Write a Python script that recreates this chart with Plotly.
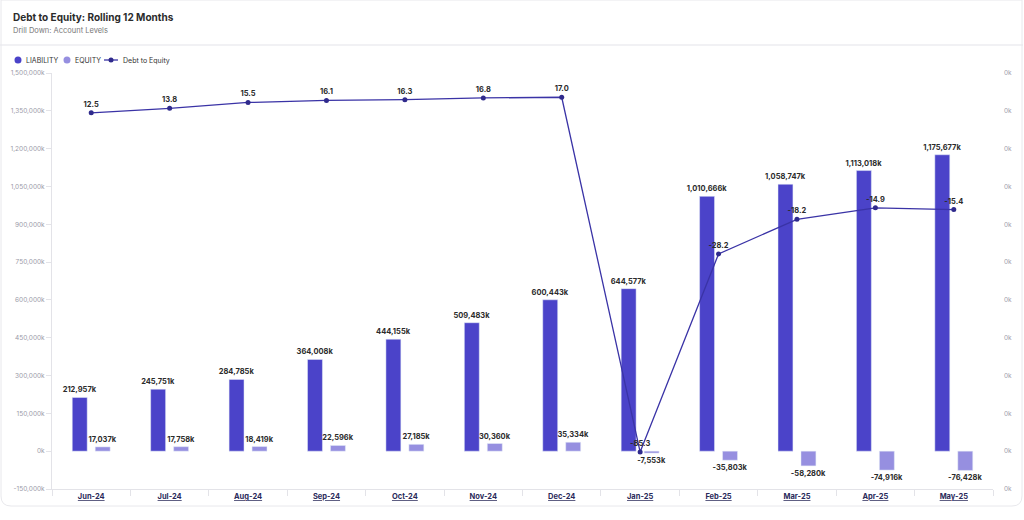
import plotly.graph_objects as go

months = ["Jun-24", "Jul-24", "Aug-24", "Sep-24", "Oct-24", "Nov-24",
          "Dec-24", "Jan-25", "Feb-25", "Mar-25", "Apr-25", "May-25"]
liability = [212957, 245751, 284785, 364008, 444155, 509483,
             600443, 644577, 1010666, 1058747, 1113018, 1175677]
equity = [17037, 17758, 18419, 22596, 27185, 30360,
          35334, -7553, -35803, -58280, -74916, -76428]
debt_to_equity = [12.5, 13.8, 15.5, 16.1, 16.3, 16.8,
                  17.0, -85.3, -28.2, -18.2, -14.9, -15.4]

LIAB_COLOR = "#4b43c9"
EQ_COLOR = "#968fe0"
LINE_COLOR = "#3a33a6"
DOT_COLOR = "#2f2a8c"
FONT = "Inter"

W, H = 1024, 520
ML, MR, MT, MB = 52, 31, 73, 31
PW, PH = W - ML - MR, H - MT - MB


def px(x):
    return (x - ML) / PW


def py(y):
    return (H - MB - y) / PH


def fmt_k(v):
    return f"{v:,}k"


label_font = dict(size=7.5, color="#2b2b2b", family=FONT, weight="bold")

fig = go.Figure()

fig.add_trace(go.Bar(
    x=months, y=liability, name="LIABILITY", marker_color=LIAB_COLOR,
    text=[fmt_k(v) for v in liability], textposition="outside",
    textfont=label_font, constraintext="none", cliponaxis=False,
))
fig.add_trace(go.Bar(
    x=months, y=equity, name="EQUITY", marker_color=EQ_COLOR,
    text=[fmt_k(v) for v in equity], textposition="outside",
    textfont=label_font, constraintext="none", cliponaxis=False,
))
fig.add_trace(go.Scatter(
    x=months, y=debt_to_equity, name="Debt to Equity", yaxis="y2",
    mode="lines+markers+text", line=dict(color=LINE_COLOR, width=1.3),
    marker=dict(size=5, color=DOT_COLOR),
    text=[f"{v:.1f}" for v in debt_to_equity], textposition="top center",
    textfont=label_font, cliponaxis=False,
))

y_ticks = list(range(-150000, 1500001, 150000))
y2_lo, y2_hi = -96, 24
y2_ticks = [y2_lo + i * (y2_hi - y2_lo) / 11 for i in range(12)]

fig.update_layout(
    width=W, height=H,
    margin=dict(l=ML, r=MR, t=MT, b=MB),
    paper_bgcolor="white", plot_bgcolor="white",
    font=dict(family=FONT, color="#333"),
    barmode="group", bargap=0.414, bargroupgap=0.35,
    showlegend=False,
    xaxis=dict(
        range=[-0.5, len(months) - 0.5],
        tickvals=months, ticktext=[f"<u><b>{m}</b></u>" for m in months],
        tickfont=dict(size=7.5, color="#2a2a5a"),
        showline=True, linecolor="#e3e3e8", linewidth=1,
        ticks="outside", tickson="boundaries", ticklen=6, tickcolor="#e3e3e8",
        showgrid=False, zeroline=False, automargin=False,
    ),
    yaxis=dict(
        range=[-150000, 1500000], tickvals=y_ticks,
        ticktext=[fmt_k(v) for v in y_ticks],
        tickfont=dict(size=6.5, color="#9a9aa8"),
        showline=True, linecolor="#e3e3e8", linewidth=1,
        ticks="outside", ticklen=5, tickcolor="#e3e3e8",
        showgrid=False, zeroline=False, automargin=False,
    ),
    yaxis2=dict(
        overlaying="y", side="right", range=[y2_lo, y2_hi],
        tickvals=y2_ticks, ticktext=["0k"] * len(y2_ticks),
        tickfont=dict(size=6.5, color="#a0a0ac"), ticklabelstandoff=10,
        showgrid=False, zeroline=False, showline=False, ticks="",
        automargin=False,
    ),
)

# header
fig.add_annotation(text="<b>Debt to Equity: Rolling 12 Months</b>", xref="paper", yref="paper",
                   x=px(11), y=py(17), xanchor="left", yanchor="middle", showarrow=False,
                   font=dict(size=10, color="#2b2b2b", family=FONT))
fig.add_annotation(text="Drill Down: Account Levels", xref="paper", yref="paper",
                   x=px(11), y=py(31), xanchor="left", yanchor="middle", showarrow=False,
                   font=dict(size=7.5, color="#777", family=FONT))
fig.add_shape(type="line", xref="paper", yref="paper", x0=px(0), x1=px(1023),
              y0=py(45), y1=py(45), line=dict(color="#ececf0", width=1.5))
# card outline
fig.add_shape(type="path", xref="paper", yref="paper",
              path=(f"M {px(1)},{py(0)} L {px(1022)},{py(0)} L {px(1022)},{py(496)} "
                    f"Q {px(1022)},{py(506)} {px(1012)},{py(506)} L {px(11)},{py(506)} "
                    f"Q {px(1)},{py(506)} {px(1)},{py(496)} Z"),
              line=dict(color="#e8e8ec", width=1))

# legend drawn by hand so the keys look like the original dots
legend_y = py(60)
rx, ry = 3.5 / PW, 3.5 / PH
for cx, color in [(18, LIAB_COLOR), (67, EQ_COLOR)]:
    fig.add_shape(type="circle", xref="paper", yref="paper",
                  x0=px(cx) - rx, x1=px(cx) + rx, y0=legend_y - ry, y1=legend_y + ry,
                  fillcolor=color, line=dict(width=0))
fig.add_shape(type="line", xref="paper", yref="paper", x0=px(104), x1=px(118),
              y0=legend_y, y1=legend_y, line=dict(color=LINE_COLOR, width=1.3))
fig.add_shape(type="circle", xref="paper", yref="paper",
              x0=px(111) - 2.5 / PW, x1=px(111) + 2.5 / PW,
              y0=legend_y - 2.5 / PH, y1=legend_y + 2.5 / PH,
              fillcolor=DOT_COLOR, line=dict(width=0))
for tx, name in [(24, "LIABILITY"), (73, "EQUITY"), (121, "Debt to Equity")]:
    fig.add_annotation(text=name, xref="paper", yref="paper", x=px(tx), y=legend_y,
                       xanchor="left", yanchor="middle", showarrow=False,
                       font=dict(size=7, color="#333", family=FONT))

fig.write_html("out.html", config={"displayModeBar": False},
               post_script="document.body.style.margin='0';")
